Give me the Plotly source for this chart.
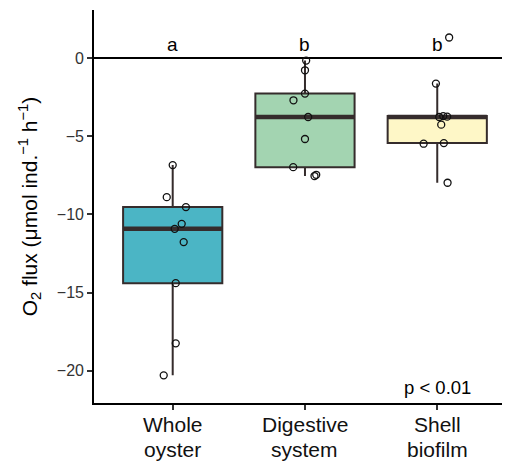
import numpy as np
import plotly.graph_objects as go

categories = [["Whole", "oyster"], ["Digestive", "system"], ["Shell", "biofilm"]]
whole_oyster = [-6.84, -8.89, -9.53, -10.6, -10.92, -11.77, -14.4, -18.25, -20.3]
digestive_system = [-0.15, -0.77, -2.26, -2.69, -3.76, -5.17, -6.97, -7.54, -7.46]
shell_biofilm = [1.33, -1.62, -3.76, -3.70, -3.74, -4.25, -5.47, -5.43, -7.97]
# horizontal jitter of the points (category units)
jitter_whole = [0.0, -0.045, 0.10, 0.068, 0.015, 0.083, 0.023, 0.023, -0.068]
jitter_digestive = [0.009, 0.0, 0.0, -0.087, 0.024, 0.0, -0.089, 0.072, 0.085]
jitter_shell = [0.09, -0.01, 0.015, 0.045, 0.075, 0.03, -0.103, 0.05, 0.078]
letters = ["a", "b", "b"]
y_ticks = [-20, -15, -10, -5, 0]
p_label = "p < 0.01"

series = [whole_oyster, digestive_system, shell_biofilm]
jitters = [jitter_whole, jitter_digestive, jitter_shell]
fills = ["#4BB5C5", "#A3D4B1", "#FEF7C7"]
edge = "#352C2C"
font = "Liberation Sans, Arial, sans-serif"
box_w = 0.75

fig = go.Figure()
for i, (vals, fc) in enumerate(zip(series, fills)):
    fig.add_trace(go.Box(
        y=vals, x0=i, width=box_w, fillcolor=fc,
        line=dict(color=edge, width=2), whiskerwidth=0,
        boxpoints="outliers", marker=dict(opacity=0, size=1),
        quartilemethod="inclusive", showlegend=False, hoverinfo="skip",
    ))
    med = float(np.median(vals))
    fig.add_trace(go.Scatter(
        x=[i - box_w / 2, i + box_w / 2], y=[med, med], mode="lines",
        line=dict(color=edge, width=4.5), showlegend=False, hoverinfo="skip",
    ))
for i, (vals, jit) in enumerate(zip(series, jitters)):
    fig.add_trace(go.Scatter(
        x=[i + j for j in jit], y=vals, mode="markers",
        marker=dict(symbol="circle-open", size=7, color="#111111",
                    line=dict(width=1.3, color="#111111")),
        showlegend=False, hoverinfo="skip",
    ))

for i, t in enumerate(letters):
    fig.add_annotation(x=i, y=0, text=t, showarrow=False, yanchor="bottom",
                       yshift=1, font=dict(family=font, size=19, color="black"))
fig.add_annotation(x=2, y=-21.1, text=p_label, showarrow=False, yanchor="middle",
                   font=dict(family=font, size=18.5, color="black"))

# two-line category labels under the x axis
for i, lines in enumerate(categories):
    for k, line in enumerate(lines):
        fig.add_annotation(x=i, xref="x", y=0, yref="paper", text=line,
                           showarrow=False, yanchor="middle", yshift=-21 - 25 * k,
                           font=dict(family=font, size=21, color="#111111"))

# the page body adds an 8px offset; size the figure so it fills the window exactly
fig.update_layout(
    width=502, height=454,
    margin=dict(l=86, r=0, t=2, b=59),
    paper_bgcolor="white", plot_bgcolor="white",
    font=dict(family=font, color="black"),
    xaxis=dict(
        range=[-0.595, 2.55], tickmode="array", tickvals=[0, 1, 2],
        showticklabels=False, automargin=False,
        showline=True, linecolor="black", linewidth=1.6, ticks="outside", ticklen=5,
        tickcolor="#333333", tickwidth=1.6, showgrid=False, zeroline=False,
    ),
    yaxis=dict(
        range=[-22.07, 3.09], tickmode="array", tickvals=y_ticks, automargin=False,
        showline=True, linecolor="black", linewidth=1.6, ticks="outside", ticklen=5,
        tickcolor="#333333", tickwidth=1.6, showgrid=False,
        zeroline=True, zerolinecolor="black", zerolinewidth=1.6,
        tickfont=dict(family=font, size=16, color="#333333"),
        title=dict(text="O<sub>2</sub> flux (μmol ind.<sup>−1</sup> h<sup>−1</sup>)",
                   font=dict(family=font, size=21, color="black"), standoff=14),
    ),
)
fig.write_html("out.html")
